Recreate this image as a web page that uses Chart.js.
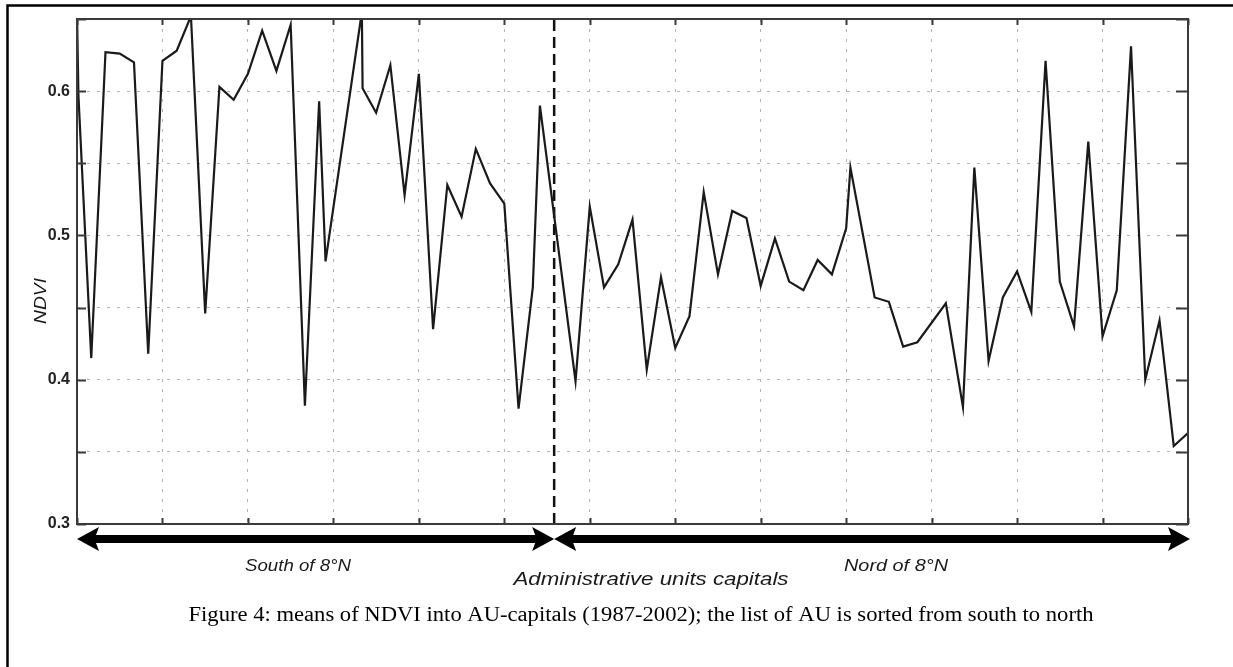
<!DOCTYPE html>
<html>
<head>
<meta charset="utf-8">
<script src="https://cdn.jsdelivr.net/npm/chart.js@4.4.1/dist/chart.umd.min.js"></script>
<style>
  html, body { margin: 0; padding: 0; background: #fff; }
  #wrap { width: 1233px; height: 667px; }
</style>
</head>
<body>
<div id="wrap"><canvas id="ndviChart" width="1233" height="667"></canvas></div>
<script>
// position of each AU-capital in the south -> north list
const auPosition = [0, 0.1, 1, 2, 3, 4, 5, 6, 7, 8, 9, 10, 11, 12, 13, 14, 15, 16, 17, 17.45,
  20, 20.05, 21, 22, 23, 24, 25, 26, 27, 28, 29, 30, 31, 32, 32.5,
  35, 36, 37, 38, 39, 40, 41, 42, 43, 44, 45, 46, 47, 48, 49, 50, 51, 52, 53, 54, 54.3,
  56, 57, 58, 59, 61, 62.2, 63, 64, 65, 66, 67, 68, 69, 70, 71, 72, 73, 74, 75, 76, 77, 78];

// mean NDVI 1987-2002 for each capital
const ndviMean = [0.655, 0.597, 0.415, 0.627, 0.626, 0.620, 0.418, 0.621, 0.628, 0.652, 0.446,
  0.603, 0.594, 0.612, 0.642, 0.614, 0.646, 0.382, 0.593, 0.482,
  0.655, 0.602, 0.585, 0.618, 0.528, 0.612, 0.435, 0.535, 0.513, 0.560, 0.536, 0.522, 0.380, 0.464, 0.590,
  0.399, 0.520, 0.464, 0.480, 0.511, 0.407, 0.471, 0.422, 0.444, 0.530, 0.473, 0.517, 0.512, 0.465, 0.498,
  0.468, 0.462, 0.483, 0.473, 0.505, 0.547,
  0.457, 0.454, 0.423, 0.426, 0.453, 0.381, 0.547, 0.413, 0.457, 0.475, 0.447, 0.621, 0.468, 0.437,
  0.565, 0.430, 0.462, 0.631, 0.400, 0.441, 0.354, 0.363];

// 8°N limit between south and north capitals
const dividerAt = 33.5;
const yLabelled = [0.3, 0.4, 0.5, 0.6];

const zoneLabels = ['South of 8°N', 'Nord of 8°N'];
const xTitle = 'Administrative units capitals';
const yTitle = 'NDVI';
const caption = 'Figure 4: means of NDVI into AU-capitals (1987-2002); the list of AU is sorted from south to north';

const points = auPosition.map((x, i) => ({ x: x, y: ndviMean[i] }));

function stretchedText(ctx, text, cx, y, width, font) {
  ctx.save();
  ctx.font = font;
  const w = ctx.measureText(text).width;
  ctx.translate(cx, y);
  ctx.scale(width / w, 1);
  ctx.textAlign = 'center';
  ctx.textBaseline = 'alphabetic';
  ctx.fillText(text, 0, 0);
  ctx.restore();
}

function doubleArrow(ctx, x1, x2, y) {
  const head = 22, half = 12, shaft = 4;
  ctx.beginPath();
  ctx.moveTo(x1, y);
  ctx.lineTo(x1 + head, y - half);
  ctx.lineTo(x1 + head - 3, y - shaft);
  ctx.lineTo(x2 - head + 3, y - shaft);
  ctx.lineTo(x2 - head, y - half);
  ctx.lineTo(x2, y);
  ctx.lineTo(x2 - head, y + half);
  ctx.lineTo(x2 - head + 3, y + shaft);
  ctx.lineTo(x1 + head - 3, y + shaft);
  ctx.lineTo(x1 + head, y + half);
  ctx.closePath();
  ctx.fill();
}

const notes = {
  id: 'notes',
  afterDraw(chart) {
    const ctx = chart.ctx;
    const a = chart.chartArea;
    const xs = chart.scales.x, ys = chart.scales.y;

    // outer figure box
    ctx.save();
    ctx.strokeStyle = '#000';
    ctx.lineWidth = 2.5;
    ctx.beginPath();
    ctx.moveTo(7.5, 667);
    ctx.lineTo(7.5, 5.5);
    ctx.lineTo(1233, 5.5);
    ctx.stroke();

    // axes frame with inward ticks
    ctx.strokeStyle = '#3a3a3a';
    ctx.lineWidth = 2;
    ctx.strokeRect(a.left, a.top, a.right - a.left, a.bottom - a.top);
    ctx.beginPath();
    ys.ticks.forEach(t => {
      const py = Math.round(ys.getPixelForValue(t.value)) + 0.5;
      ctx.moveTo(a.left, py); ctx.lineTo(a.left + 9, py);
      ctx.moveTo(a.right, py); ctx.lineTo(a.right - 12, py);
    });
    xs.ticks.forEach(t => {
      const px = Math.round(xs.getPixelForValue(t.value)) + 0.5;
      ctx.moveTo(px, a.bottom); ctx.lineTo(px, a.bottom - 6);
      ctx.moveTo(px, a.top); ctx.lineTo(px, a.top + 6);
    });
    ctx.stroke();

    // south / north arrows
    ctx.fillStyle = '#000';
    const xMid = xs.getPixelForValue(dividerAt);
    doubleArrow(ctx, xs.getPixelForValue(0), xMid, 539);
    doubleArrow(ctx, xMid, xs.getPixelForValue(78) + 2, 539);

    ctx.fillStyle = '#1a1a1a';
    stretchedText(ctx, zoneLabels[0], 298, 571, 106, 'italic 16px "Liberation Sans"');
    stretchedText(ctx, zoneLabels[1], 896, 571, 104, 'italic 16px "Liberation Sans"');
    stretchedText(ctx, xTitle, 651, 585, 275, 'italic 18px "Liberation Sans"');

    // y title
    ctx.save();
    ctx.font = 'italic 15px "Liberation Sans"';
    const w = ctx.measureText(yTitle).width;
    ctx.translate(46, 301);
    ctx.rotate(-Math.PI / 2);
    ctx.scale(46 / w, 1.15);
    ctx.textAlign = 'center';
    ctx.textBaseline = 'alphabetic';
    ctx.fillText(yTitle, 0, 0);
    ctx.restore();

    ctx.fillStyle = '#000';
    stretchedText(ctx, caption, 641, 621, 905, '20px "Liberation Serif"');
    ctx.restore();
  }
};

new Chart(document.getElementById('ndviChart'), {
  type: 'line',
  data: {
    datasets: [{
      data: points,
      borderColor: '#1a1a1a',
      borderWidth: 2.2,
      pointRadius: 0,
      tension: 0,
      clip: 0
    }, {
      data: [{ x: dividerAt, y: 0.3 }, { x: dividerAt, y: 0.65 }],
      borderColor: '#111',
      borderWidth: 2.5,
      borderDash: [11, 6],
      pointRadius: 0
    }]
  },
  options: {
    responsive: false,
    animation: false,
    devicePixelRatio: 1,
    layout: { padding: { left: 0, top: 19, right: 45, bottom: 143 } },
    plugins: { legend: { display: false }, tooltip: { enabled: false } },
    scales: {
      x: {
        type: 'linear',
        min: 0,
        max: 78,
        ticks: { stepSize: 6, display: false },
        grid: { color: '#b4b4b4', lineWidth: 1, drawTicks: false },
        border: { display: false, dash: [3, 7] },
        afterFit: s => { s.height = 0; }
      },
      y: {
        min: 0.3,
        max: 0.65,
        ticks: {
          stepSize: 0.05,
          padding: 7,
          color: '#222',
          font: { family: 'Liberation Sans', size: 16, weight: 'bold' },
          callback: v => yLabelled.some(l => Math.abs(l - v) < 1e-6) ? v.toFixed(1) : ''
        },
        grid: { color: '#b4b4b4', lineWidth: 1, drawTicks: false },
        border: { display: false, dash: [3, 7] },
        afterFit: s => { s.width = 77; }
      }
    }
  },
  plugins: [notes]
});
</script>
</body>
</html>
